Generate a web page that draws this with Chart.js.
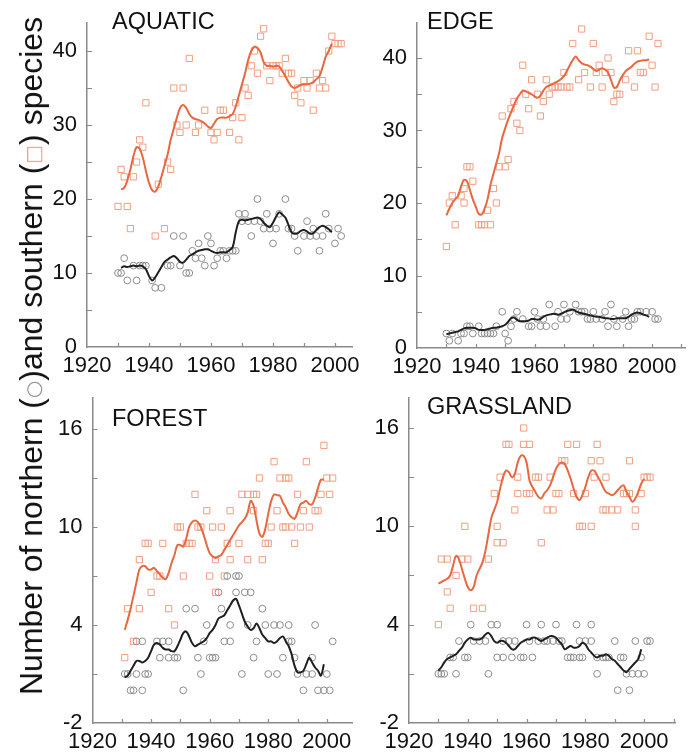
<!DOCTYPE html>
<html>
<head>
<meta charset="utf-8">
<script src="https://cdn.jsdelivr.net/npm/chart.js@4.4.1/dist/chart.umd.min.js"></script>
<style>
  html, body { margin: 0; padding: 0; background: #fff; }
  #wrap { position: relative; width: 692px; height: 756px; overflow: hidden; }
  #wrap canvas { position: absolute; left: 0; top: 0; }
  #ylab {
    position: absolute; left: 31px; top: 356px;
    transform: translate(-50%, -50%) rotate(-90deg);
    font: 32px "Liberation Sans", Arial, Helvetica, sans-serif;
    color: #111; white-space: nowrap; line-height: 1;
  }
  #ylab .sym { font-family: "DejaVu Sans", sans-serif; font-size: 0.62em; vertical-align: 0.12em; }
  #ylab .ci { color: #8c8c8c; }
  #ylab .sq { color: #F29E80; }
</style>
</head>
<body>
<div id="wrap">
  <canvas id="cAquatic" width="692" height="756"></canvas>
  <canvas id="cEdge" width="692" height="756"></canvas>
  <canvas id="cForest" width="692" height="756"></canvas>
  <canvas id="cGrass" width="692" height="756"></canvas>
  <div id="ylab">Number of northern (<span class="sym ci">○</span>)and southern (<span class="sym sq">□</span>) species</div>
</div>
<script>
// axes
const X_LABELS = [1920, 1940, 1960, 1980, 2000];
const X_TICKS = [1930, 1940, 1950, 1960, 1970, 1980, 1990, 2000, 2010];
const Y_LABELS_TOP = [0, 10, 20, 30, 40];
const Y_TICKS_TOP = [5, 10, 15, 20, 25, 30, 35, 40];
const Y_LABELS_BOTTOM = [-2, 4, 10, 16];
const Y_TICKS_BOTTOM = [1, 4, 7, 10, 13, 16];

// AQUATIC
const AQ_SQ_YEAR = [1930,1931,1932,1933,1934,1935,1936,1937,1938,1939,1942,1943,1945,1946,1947,1948,1949,1950,1951,1952,1953,1955,1956,1958,1960,1961,1962,1963,1964,1966,1967,1968,1969,1970,1971,1972,1973,1974,1975,1976,1977,1978,1979,1980,1981,1982,1983,1984,1985,1986,1987,1988,1989,1990,1991,1992,1993,1994,1995,1996,1997,1998,1999,2000,2001,2002];
const AQ_SQ_VAL = [19,24,23,19,16,23,25,28,27,33,15,22,16,25,24,35,30,29,35,30,39,29,30,32,29,28,29,32,32,29,31,33,28,31,35,34,38,40,37,42,43,38,36,38,38,38,37,39,37,37,34,35,33,36,35,36,32,37,35,36,35,40,42,41,41,41];
const AQ_CI_YEAR = [1930,1931,1932,1933,1935,1936,1937,1938,1939,1941,1942,1944,1946,1947,1948,1950,1951,1952,1953,1954,1955,1956,1957,1958,1959,1960,1961,1962,1963,1964,1965,1966,1967,1968,1969,1970,1971,1972,1973,1974,1975,1976,1977,1978,1979,1980,1981,1982,1984,1985,1986,1987,1988,1990,1991,1992,1993,1994,1995,1996,1997,1998,2000,2001,2002];
const AQ_CI_VAL = [10,10,12,9,11,9,11,11,11,9,8,8,11,11,15,11,15,10,10,13,12,14,12,11,15,14,11,12,13,13,12,13,13,13,18,17,18,17,15,17,20,17,16,18,16,14,16,18,20,16,16,15,13,15,17,15,16,15,13,15,18,16,14,16,15];
const AQ_SOUTH_START = 1931;
const AQ_SOUTH = [21.3,21.5,22.5,24,25.8,27,26.8,25.6,23.8,22.2,21.2,21,21.7,23,24.5,26,28,29.5,31,32.3,32.7,32.3,31.5,31,30.8,30.7,30.5,30.2,29.8,29.6,30.2,30.8,31,31,31,31.2,31.5,32.5,34,35.5,37,38.8,40,40.6,40.4,39.8,38.5,38,38,37.9,38,37.9,37.3,36.6,35.8,35.2,35,35.2,35.4,35.5,35.5,35.6,35.8,36.2,36.6,37.8,39.2,40,41];
const AQ_NORTH_START = 1931;
const AQ_NORTH = [10.7,10.9,10.8,10.9,11,10.9,11,10.9,10.5,9.6,9.0,9.4,10.1,10.8,11.5,11.8,12.1,12.3,12.0,11.5,11.4,11.8,12.3,12.5,12.8,13,13.1,13.2,13.2,13.0,12.8,12.7,12.8,12.8,12.8,13.1,13.5,15.5,17,17.2,17.1,17.2,17.3,17.4,17.5,17.3,16.8,16.4,16.2,16.8,17.6,18.2,17.9,17.5,16.5,15.5,15.3,15.4,15.7,15.8,15.6,15.3,15.4,15.8,16.2,16.4,16.2,15.9,15.5];

// EDGE
const ED_SQ_YEAR = [1930,1931,1932,1933,1935,1936,1936,1937,1938,1939,1941,1942,1943,1944,1945,1946,1947,1948,1949,1950,1951,1952,1953,1954,1955,1956,1957,1958,1959,1961,1962,1963,1964,1965,1966,1967,1968,1969,1970,1971,1972,1973,1975,1976,1977,1979,1980,1981,1982,1983,1984,1985,1986,1987,1988,1989,1991,1992,1994,1995,1996,1997,1999,2000,2001,2002];
const ED_SQ_VAL = [14,20,21,17,21,22,20,25,25,23,17,17,17,19,17,22,20,25,32,25,26,33,34,31,30,39,35,33,37,35,32,34,37,35,36,36,36,36,38,36,36,42,37,44,38,36,42,38,39,36,38,40,38,34,35,35,37,41,36,41,38,38,43,39,36,42];
const ED_CI_YEAR = [1930,1931,1932,1934,1935,1936,1937,1938,1939,1941,1942,1943,1944,1945,1946,1947,1949,1950,1951,1952,1953,1954,1956,1958,1959,1960,1961,1962,1963,1964,1965,1967,1968,1969,1970,1971,1972,1974,1975,1976,1977,1978,1979,1980,1981,1983,1984,1985,1986,1987,1988,1990,1991,1992,1993,1994,1995,1996,1998,2000,2001,2002];
const ED_CI_VAL = [2,1,2,1,2,2,3,3,2,3,2,2,2,2,2,3,5,2,1,3,4,5,4,3,3,5,4,3,4,3,6,3,5,4,6,4,5,6,5,5,5,4,4,5,4,4,5,3,6,4,3,4,5,3,4,4,5,5,5,5,4,4];
const ED_SOUTH_START = 1930;
const ED_SOUTH = [18.3,19.2,20,20.5,21,22.3,23.2,23,21.8,20.5,19.5,18.5,18.4,19.2,20.5,22.5,24,25.5,27,29,30.3,31.5,32.5,33.5,34.4,35,35.5,35.4,35.2,35,34.7,34.5,34.8,35.5,36,36.2,36.4,36.6,36.8,37.1,37.5,38.2,39,39.7,40.2,39.7,39.3,39.1,39,38.8,38.5,38.2,38.4,38.6,38.4,38,37,35.9,36,36.9,37.6,38.2,38.5,38.8,39.2,39.5,39.6,39.7,39.7,39.8];
const ED_NORTH_START = 1930;
const ED_NORTH = [1.9,2.0,2.1,2.2,2.3,2.5,2.7,2.8,2.8,2.8,2.7,2.5,2.5,2.5,2.6,2.7,2.8,2.8,2.9,3.0,3.2,3.6,4.1,4.2,3.9,3.7,3.7,3.7,3.8,4.0,4.0,3.9,4.0,4.3,4.5,4.6,4.7,4.7,4.6,4.7,4.9,5.1,5.2,5.3,5.1,4.9,4.8,4.7,4.6,4.5,4.4,4.3,4.3,4.2,4.1,4.1,4.0,4.0,4.1,4.1,4.1,4.1,4.3,4.6,4.8,4.9,4.8,4.6,4.5,4.3];

// FOREST
const FO_SQ_YEAR = [1931,1932,1934,1936,1936,1938,1939,1940,1942,1943,1944,1946,1948,1949,1950,1951,1952,1953,1954,1955,1956,1957,1959,1960,1961,1962,1962,1964,1965,1966,1967,1967,1970,1971,1973,1973,1975,1975,1976,1977,1978,1979,1980,1981,1982,1983,1984,1985,1986,1986,1987,1988,1989,1990,1991,1992,1993,1994,1996,1997,1998,1999,2000,2001,2002];
const FO_SQ_VAL = [2,5,3,5,8,9,9,6,7,7,9,5,4,10,10,7,9,9,9,12,10,10,11,7,10,8,6,10,7,9,8,11,9,12,8,12,12,11,12,13,8,9,9,10,14,11,13,10,13,10,13,10,9,12,10,11,14,10,11,11,12,15,13,12,13];
const FO_CI_YEAR = [1931,1932,1933,1934,1935,1935,1937,1937,1938,1939,1942,1943,1944,1946,1946,1948,1949,1951,1952,1955,1956,1957,1958,1959,1960,1961,1962,1963,1964,1965,1966,1967,1967,1969,1969,1970,1971,1972,1973,1974,1975,1976,1978,1979,1980,1982,1983,1984,1985,1987,1987,1988,1989,1990,1992,1993,1995,1995,1996,1997,1999,2000,2001,2002];
const FO_CI_VAL = [1,1,0,0,1,3,3,0,1,1,3,2,3,3,2,2,2,0,5,5,2,1,3,4,2,2,2,6,5,3,7,3,4,7,6,7,1,6,4,6,2,3,5,4,1,4,1,4,2,4,3,3,2,1,0,1,2,1,4,0,0,1,0,3];
const FO_SOUTH_START = 1931;
const FO_SOUTH = [3.7,4.3,5,5.8,6.6,7.4,7.6,7.6,7.4,7.4,7.5,7.3,7.1,6.9,6.8,7.2,7.8,8.3,8.9,8.9,8.8,9.3,10.0,10.3,10.4,10.3,10,9.5,8.9,8.4,8.2,8.1,8.2,8.3,8.6,8.9,9.2,9.5,9.8,10.1,10.3,10.5,10.9,11.6,11.3,10.4,9.6,9.4,9.9,10.8,11.6,12.0,11.95,11.9,11.5,11.2,10.8,10.6,10.5,10.9,11.4,11.5,11.6,11.4,11.4,11.8,12.4,12.9,12.9];
const FO_NORTH_START = 1931;
const FO_NORTH = [0.8,0.9,1.2,1.5,1.8,1.8,1.7,1.8,2.0,2.4,2.8,2.9,2.8,2.6,2.5,2.5,2.4,2.4,2.7,3.1,3.5,3.6,3.3,2.9,2.7,2.8,2.9,3.0,3.2,3.5,3.7,4.0,4.4,4.5,4.6,4.9,5.2,5.5,5.6,5.2,4.7,4.2,3.9,3.7,3.8,4.1,3.8,3.4,3.2,3.0,3.0,2.9,3.0,3.2,3.3,3.0,2.7,2.2,1.5,1.1,1.1,1.2,1.6,2.0,1.7,1.4,1.2,0.9,1.6];

// GRASSLAND
const GR_SQ_YEAR = [1930,1931,1933,1933,1934,1936,1938,1939,1940,1942,1945,1947,1949,1950,1950,1951,1952,1953,1954,1956,1957,1957,1959,1959,1960,1961,1961,1963,1964,1965,1967,1968,1969,1970,1971,1972,1973,1974,1976,1977,1978,1979,1980,1982,1982,1983,1984,1985,1986,1987,1987,1989,1991,1993,1994,1995,1995,1997,1997,1999,2000,2001,2002];
const GR_SQ_VAL = [4,8,8,6,5,7,8,10,8,5,5,8,12,10,9,13,9,15,15,11,13,12,15,16,12,15,12,13,13,9,11,13,11,12,12,14,14,15,12,15,10,10,12,14,10,13,15,14,11,11,13,11,11,12,12,14,12,10,11,12,13,13,13];
const GR_CI_YEAR = [1930,1931,1932,1934,1935,1936,1937,1939,1940,1941,1942,1944,1946,1947,1948,1950,1950,1952,1952,1954,1955,1956,1958,1959,1960,1961,1962,1964,1965,1966,1967,1969,1970,1971,1972,1974,1975,1976,1977,1978,1978,1979,1980,1982,1982,1984,1984,1986,1987,1988,1990,1991,1992,1993,1994,1995,1996,1997,1998,1999,2000,2001,2002];
const GR_CI_VAL = [1,1,1,2,2,1,3,2,2,4,3,3,3,1,4,4,2,2,3,3,2,3,2,2,4,3,2,3,4,3,3,3,4,3,3,2,2,2,4,3,2,2,3,4,3,1,2,2,2,2,3,0,2,2,1,0,1,3,1,2,1,3,3];
const GR_SOUTH_START = 1930;
const GR_SOUTH = [6.5,6.6,6.7,6.8,7.0,7.6,8.2,8.0,7.4,6.8,6.3,6.1,6.3,7.0,7.4,7.8,8.5,9.5,10.5,11.0,11.5,12.3,13.0,13.4,13.3,13.0,13.2,13.9,14.3,14.3,13.9,12.8,12.4,12.1,11.8,11.7,12.0,12.2,12.5,13.0,13.5,13.8,13.9,13.8,13.4,12.9,12.3,11.8,11.6,11.9,12.4,13.0,13.4,13.4,13.1,12.8,12.4,12.1,12.0,11.9,12.0,12.2,12.4,12.5,12.1,11.8,11.5,11.7,12.1,12.6,12.9];
const GR_NORTH_START = 1930;
const GR_NORTH = [1.2,1.4,1.7,1.9,2.0,2.1,2.2,2.4,2.6,2.9,3.1,3.2,3.1,3.1,3.1,3.2,3.4,3.5,3.3,3.0,2.9,3.0,3.0,2.9,2.7,2.5,2.5,2.7,2.9,3.0,3.1,3.1,3.2,3.2,3.1,3.0,3.1,3.2,3.3,3.3,3.2,3.0,2.8,2.5,2.6,2.7,2.6,2.6,2.7,2.9,2.8,2.5,2.3,2.1,2.0,2.1,2.1,2.2,2.1,1.9,1.8,1.6,1.4,1.2,1.1,1.3,1.5,1.7,1.9,2.5];

const FONT = '"Liberation Sans", Arial, Helvetica, sans-serif';
const AXIS = '#8a8a8a';
const INK = '#111';
const SQ_COLOR = '#F29E80';
const CI_COLOR = '#8c8c8c';
const SOUTH_COLOR = '#E8673F';
const NORTH_COLOR = '#1f1f1f';
const Y_AXIS_W = 44;
const X_AXIS_H = 32;
const W = 692, H = 756;

const pairs = (xs, ys) => xs.map((x, i) => ({ x, y: ys[i] }));
const series = (start, ys) => ys.map((y, i) => ({ x: start + i, y }));

// inward tick marks + panel title
const InnerTicks = {
  id: 'innerTicks',
  afterDraw(chart, args, o) {
    const { ctx, chartArea: a, scales: { x, y } } = chart;
    ctx.save();
    ctx.strokeStyle = AXIS;
    ctx.lineWidth = 1.2;
    ctx.beginPath();
    o.xTicks.forEach(v => {
      if (v <= x.min || v > x.max) return;
      const px = Math.round(x.getPixelForValue(v)) + 0.5;
      ctx.moveTo(px, a.bottom);
      ctx.lineTo(px, a.bottom - 4);
    });
    o.yTicks.forEach(v => {
      if (v <= y.min || v > y.max) return;
      const py = Math.round(y.getPixelForValue(v)) + 0.5;
      ctx.moveTo(a.left, py);
      ctx.lineTo(a.left + 5, py);
    });
    ctx.stroke();
    ctx.fillStyle = INK;
    ctx.font = '23.5px ' + FONT;
    ctx.textBaseline = 'alphabetic';
    ctx.textAlign = 'left';
    ctx.fillText(o.title, a.left + o.dx, a.top + o.dy);
    ctx.restore();
  }
};

function panel(id, p) {
  const ar = p.area;
  new Chart(document.getElementById(id), {
    type: 'scatter',
    data: {
      datasets: [
        { data: series(p.northStart, p.north), showLine: true, borderColor: NORTH_COLOR, borderWidth: 2,
          pointRadius: 0, tension: 0.35, fill: false },
        { data: series(p.southStart, p.south), showLine: true, borderColor: SOUTH_COLOR, borderWidth: 2,
          pointRadius: 0, tension: 0.35, fill: false },
        { data: pairs(p.ciYear, p.ciVal), pointStyle: 'circle', pointRadius: 3.4,
          borderColor: CI_COLOR, backgroundColor: 'rgba(0,0,0,0)', pointBorderWidth: 1 },
        { data: pairs(p.sqYear, p.sqVal), pointStyle: 'rect', pointRadius: 4.4,
          borderColor: SQ_COLOR, backgroundColor: 'rgba(0,0,0,0)', pointBorderWidth: 1 }
      ]
    },
    options: {
      responsive: false,
      animation: false,
      layout: { padding: { left: ar.x0 - Y_AXIS_W, top: ar.y0, right: W - ar.x1, bottom: H - ar.y1 - X_AXIS_H } },
      plugins: {
        legend: { display: false },
        tooltip: { enabled: false },
        innerTicks: { title: p.title, dx: p.dx, dy: p.dy, xTicks: X_TICKS, yTicks: p.yTicks }
      },
      scales: {
        x: {
          type: 'linear', min: 1920, max: p.xMax,
          afterBuildTicks: s => { s.ticks = X_LABELS.map(v => ({ value: v })); },
          afterFit: s => { s.height = X_AXIS_H; },
          grid: { display: false, drawTicks: false },
          border: { display: true, color: AXIS, width: 1.5 },
          ticks: { color: INK, font: { family: FONT, size: 22 }, padding: 6, maxRotation: 0, autoSkip: false,
                   callback: v => String(v) }
        },
        y: {
          type: 'linear', min: p.yMin, max: p.yMax,
          afterBuildTicks: s => { s.ticks = p.yLabels.map(v => ({ value: v })); },
          afterFit: s => { s.width = Y_AXIS_W; },
          grid: { display: false, drawTicks: false },
          border: { display: true, color: AXIS, width: 1.5 },
          ticks: { color: INK, font: { family: FONT, size: 22 }, padding: 10, callback: v => String(v) }
        }
      }
    },
    plugins: [InnerTicks]
  });
}

panel('cAquatic', {
  title: 'AQUATIC', dx: 25, dy: 6,
  area: { x0: 87, y0: 21, x1: 352, y1: 347 },
  xMax: 2005.5, yMin: 0, yMax: 43.76, yLabels: Y_LABELS_TOP, yTicks: Y_TICKS_TOP,
  sqYear: AQ_SQ_YEAR, sqVal: AQ_SQ_VAL, ciYear: AQ_CI_YEAR, ciVal: AQ_CI_VAL,
  southStart: AQ_SOUTH_START, south: AQ_SOUTH, northStart: AQ_NORTH_START, north: AQ_NORTH
});
panel('cEdge', {
  title: 'EDGE', dx: 10, dy: 6,
  area: { x0: 417, y0: 22, x1: 685, y1: 348 },
  xMax: 2011.2, yMin: 0, yMax: 44.8, yLabels: Y_LABELS_TOP, yTicks: Y_TICKS_TOP,
  sqYear: ED_SQ_YEAR, sqVal: ED_SQ_VAL, ciYear: ED_CI_YEAR, ciVal: ED_CI_VAL,
  southStart: ED_SOUTH_START, south: ED_SOUTH, northStart: ED_NORTH_START, north: ED_NORTH
});
panel('cForest', {
  title: 'FOREST', dx: 19.5, dy: 28,
  area: { x0: 92.5, y0: 398, x1: 352, y1: 723 },
  xMax: 2008.6, yMin: -2, yMax: 17.9, yLabels: Y_LABELS_BOTTOM, yTicks: Y_TICKS_BOTTOM,
  sqYear: FO_SQ_YEAR, sqVal: FO_SQ_VAL, ciYear: FO_CI_YEAR, ciVal: FO_CI_VAL,
  southStart: FO_SOUTH_START, south: FO_SOUTH, northStart: FO_NORTH_START, north: FO_NORTH
});
panel('cGrass', {
  title: 'GRASSLAND', dx: 18, dy: 16,
  area: { x0: 409, y0: 398, x1: 675, y1: 723 },
  xMax: 2010.5, yMin: -2, yMax: 17.83, yLabels: Y_LABELS_BOTTOM, yTicks: Y_TICKS_BOTTOM,
  sqYear: GR_SQ_YEAR, sqVal: GR_SQ_VAL, ciYear: GR_CI_YEAR, ciVal: GR_CI_VAL,
  southStart: GR_SOUTH_START, south: GR_SOUTH, northStart: GR_NORTH_START, north: GR_NORTH
});
</script>
</body>
</html>
